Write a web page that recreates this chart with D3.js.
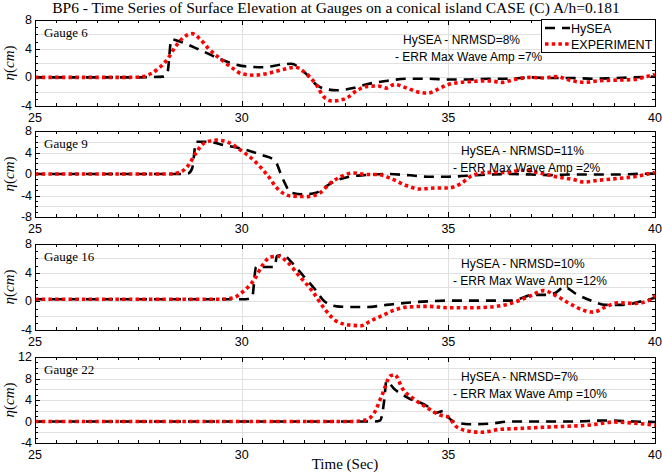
<!DOCTYPE html>
<head>
    <meta charset="utf-8" />
    <title>BP6 gauges</title>
</head>
<style>
    body { margin: 0; background: #fff; }
    .grid line { stroke: #e0e0e0; stroke-width: 1px; shape-rendering: crispEdges; }
    .frame { fill: none; stroke: #000; stroke-width: 1px; shape-rendering: crispEdges; }
    .tick line { stroke: #000; shape-rendering: crispEdges; }
    .ticklab { font-family: "Liberation Sans", Arial, sans-serif; font-size: 12.5px; fill: #000; }
    .serif { font-family: "Liberation Serif", "Times New Roman", serif; fill: #000; }
    .note { font-family: "Liberation Sans", Arial, sans-serif; font-size: 12px; fill: #000; }
</style>
<body>
<svg id="chart" width="662" height="476"></svg>
<script src="https://d3js.org/d3.v7.min.js"></script>
<script>
    // data: [time (s), eta (cm)]
    var gauges = ["Gauge 6", "Gauge 9", "Gauge 16", "Gauge 22"];
    var nrmsd = ["HySEA - NRMSD=8%", "HySEA - NRMSD=11%", "HySEA - NRMSD=10%", "HySEA - NRMSD=7%"];
    var errAmp = ["- ERR Max Wave Amp =7%", "- ERR Max Wave Amp =2%", "- ERR Max Wave Amp =12%", "- ERR Max Wave Amp =10%"];
    var yDomains = [[-4, 8], [-8, 8], [-4, 8], [-4, 12]];
    var yLabelTicks = [[-4, 0, 4, 8], [-8, -4, 0, 4, 8], [-4, 0, 4, 8], [-4, 0, 4, 8, 12]];
    var xTicks = [25, 30, 35, 40];

    var hysea6 = [[25, 0], [27.5, 0], [28.1, 0.1], [28.2, 0.5], [28.3, 5.3], [28.5, 5.0], [29, 3.8], [29.5, 2.5], [30, 1.6], [30.5, 1.4],
        [31, 1.8], [31.2, 1.9], [31.5, 0.8], [31.8, -1], [32, -1.6], [32.3, -1.8], [32.7, -1.5], [33, -1], [33.5, -0.5], [34, -0.2],
        [34.5, -0.2], [35, -0.3], [35.5, -0.3], [36, -0.2], [36.5, -0.2], [37, 0], [37.5, -0.1], [38, -0.1], [38.5, -0.2], [39, -0.1], [39.5, 0], [40, 0.1]];
    var exp6 = [[25, 0], [27.3, 0], [27.6, 0.1], [27.8, 0.5], [28, 1.3], [28.2, 2.5], [28.4, 4.3], [28.6, 5.6], [28.8, 6.1], [29, 5.3],
        [29.2, 4], [29.5, 2.5], [29.8, 1.2], [30, 0.5], [30.3, 0.3], [30.6, 0.5], [31, 1.1], [31.3, 1.4], [31.5, 0.8], [31.8, -1],
        [32, -2.8], [32.2, -3.3], [32.5, -3], [32.8, -1.8], [33, -1.3], [33.3, -1.2], [33.5, -1.5], [33.7, -1], [34, -1.5], [34.3, -2.1],
        [34.5, -2.2], [34.8, -1.5], [35, -1], [35.5, -0.6], [36, -0.5], [36.3, -0.7], [36.6, -0.3], [37, 0], [37.3, -0.1], [37.6, 0.1],
        [38, -0.5], [38.3, -0.7], [38.6, -0.5], [39, -0.4], [39.5, -0.3], [39.8, 0.1], [40, 0.4]];

    var hysea9 = [[25, 0], [28.5, 0], [28.7, 0.1], [28.8, 1], [28.9, 6], [29.2, 6], [29.5, 5.5], [30, 4.7], [30.5, 3.5], [30.8, 2.5],
        [31, -1], [31.2, -3.5], [31.5, -3.8], [31.8, -3.5], [32, -2.5], [32.3, -1.2], [32.6, -0.5], [33, -0.2], [33.5, 0], [34, -0.2],
        [34.5, -0.5], [35, -0.5], [35.5, -0.3], [36, -0.1], [36.5, 0], [37, -0.1], [37.5, -0.2], [38, -0.1], [38.5, -0.1], [39, -0.1], [39.5, 0], [40, 0.1]];
    var exp9 = [[25, 0], [28.2, 0], [28.5, 0.3], [28.7, 1.5], [28.9, 4], [29.1, 5.8], [29.4, 6.3], [29.7, 5.8], [30, 4.3], [30.3, 2.5],
        [30.6, 0], [30.9, -3], [31.2, -4.1], [31.6, -4.2], [31.9, -3.5], [32.1, -2], [32.4, -0.5], [32.7, 0.2], [33, -0.1], [33.3, -0.1],
        [33.6, -0.8], [34, -2.2], [34.3, -2.8], [34.7, -2.6], [35, -2.6], [35.3, -1.8], [35.6, -0.2], [36, 0.3], [36.4, 0.3], [36.8, 0.7],
        [37.2, 0.2], [37.6, -0.5], [38, -1], [38.3, -1.5], [38.6, -1.2], [39, -0.9], [39.5, -0.5], [40, 0.3]];

    var hysea16 = [[25, 0.3], [30.1, 0.3], [30.25, 0.5], [30.35, 4.8], [30.5, 4.8], [30.8, 4.8], [30.85, 6.3], [31, 6.5], [31.2, 5.5],
        [31.5, 3.5], [31.8, 1.5], [32, 0], [32.3, -0.7], [32.7, -0.8], [33, -0.8], [33.5, -0.5], [34, -0.2], [34.5, 0], [35, 0.1],
        [36, 0.1], [36.5, 0.1], [36.8, 0.5], [37, 0.9], [37.4, 0.9], [37.6, 1.2], [37.8, 2], [38.1, 1], [38.5, 0], [38.8, -0.5],
        [39.2, -0.5], [39.6, -0.1], [40, 0.5]];
    var exp16 = [[25, 0.3], [29.5, 0.3], [29.8, 0.5], [30, 1.2], [30.3, 3], [30.5, 5], [30.7, 6.2], [30.9, 6.3], [31.1, 5.5], [31.4, 3.5],
        [31.7, 1.5], [32, -1], [32.3, -2.8], [32.6, -3.3], [32.9, -3.4], [33.1, -2.8], [33.4, -2], [33.7, -1.2], [34, -0.8], [34.5, -0.7],
        [35, -0.9], [35.5, -0.9], [36, -0.8], [36.5, -0.3], [37, 0.8], [37.3, 1.5], [37.6, 0.8], [37.9, -0.2], [38.3, -1.3], [38.5, -1.5],
        [38.8, -0.8], [39.1, -0.2], [39.5, -0.3], [39.8, 0], [40, 0.8]];

    var hysea22 = [[25, 0], [33.2, 0], [33.35, 0.2], [33.45, 4], [33.5, 7.5], [33.7, 6], [34, 4.5], [34.5, 2.8], [34.7, 1.6], [34.9, 2],
        [35, 0.8], [35.2, -0.2], [35.5, -0.5], [36, -0.4], [36.5, 0], [37, 0], [38, 0], [38.8, 0.2], [39.5, 0], [40, -0.1]];
    var exp22 = [[25, 0], [32.7, 0], [33, 0.3], [33.2, 1.5], [33.4, 5], [33.6, 8.5], [33.7, 8.7], [33.9, 6], [34.2, 4], [34.5, 2.5],
        [34.8, 1.2], [35, 0.8], [35.2, -1], [35.5, -1.8], [35.8, -2], [36.2, -1.5], [36.7, -1.3], [37.5, -1], [38.5, -0.6], [39, -0.1],
        [39.5, -0.3], [40, -0.7]];

    var hyseaSeries = [hysea6, hysea9, hysea16, hysea22];
    var expSeries = [exp6, exp9, exp16, exp22];

    var svg = d3.select("#chart");
    var left = 35, right = 655;
    var panelTops = [20, 131, 244, 357];
    var panelH = 86;

    var x = d3.scaleLinear().domain([25, 40]).range([left, right]);

    svg.append("text")
        .attr("class", "serif")
        .attr("x", 336).attr("y", 13)
        .attr("text-anchor", "middle")
        .attr("font-size", "15.5px")
        .text("BP6 - Time Series of Surface Elevation at Gauges on a conical island CASE (C) A/h=0.181");

    gauges.forEach(function(name, i) {
        var top = panelTops[i], bottom = top + panelH;
        var dom = yDomains[i];
        var y = d3.scaleLinear().domain(dom).range([bottom, top]);
        var g = svg.append("g");

        // grid
        var grid = g.append("g").attr("class", "grid");
        grid.selectAll(".gy").data(d3.range(dom[0] + 2, dom[1], 2)).enter().append("line")
            .attr("x1", left).attr("x2", right)
            .attr("y1", function(d) { return Math.round(y(d)) + 0.5; })
            .attr("y2", function(d) { return Math.round(y(d)) + 0.5; });
        grid.selectAll(".gx").data([30, 35]).enter().append("line")
            .attr("y1", top).attr("y2", bottom)
            .attr("x1", function(d) { return Math.round(x(d)) + 0.5; })
            .attr("x2", function(d) { return Math.round(x(d)) + 0.5; });

        // ticks (inward, all four sides)
        var ticks = g.append("g").attr("class", "tick");
        d3.range(25, 40.01, 0.5).forEach(function(t) {
            var len = (t % 5 === 0) ? 5 : 3;
            var px = Math.round(x(t)) + 0.5;
            ticks.append("line").attr("x1", px).attr("x2", px).attr("y1", bottom).attr("y2", bottom - len);
            ticks.append("line").attr("x1", px).attr("x2", px).attr("y1", top).attr("y2", top + len);
        });
        d3.range(dom[0], dom[1] + 0.01, 1).forEach(function(v) {
            var len = (v % 4 === 0) ? 5 : 3;
            var py = Math.round(y(v)) + 0.5;
            ticks.append("line").attr("y1", py).attr("y2", py).attr("x1", left).attr("x2", left + len);
            ticks.append("line").attr("y1", py).attr("y2", py).attr("x1", right).attr("x2", right - len);
        });

        // tick labels
        g.selectAll(".yl").data(yLabelTicks[i]).enter().append("text")
            .attr("class", "ticklab")
            .attr("x", left - 3)
            .attr("y", function(d) { return y(d) + 4; })
            .attr("text-anchor", "end")
            .text(function(d) { return d; });
        g.selectAll(".xl").data(xTicks).enter().append("text")
            .attr("class", "ticklab")
            .attr("x", function(d) { return x(d); })
            .attr("y", bottom + 16)
            .attr("text-anchor", "middle")
            .text(function(d) { return d; });

        // y label
        var yl = g.append("text")
            .attr("class", "serif")
            .attr("transform", "translate(14," + (top + panelH / 2) + ") rotate(-90)")
            .attr("text-anchor", "middle")
            .attr("font-size", "15px");
        yl.append("tspan").attr("font-style", "italic").text("η");
        yl.append("tspan").text("(");
        yl.append("tspan").attr("font-style", "italic").text("cm");
        yl.append("tspan").text(")");

        // lines
        var line = d3.line()
            .x(function(d) { return x(d[0]); })
            .y(function(d) { return y(d[1]); })
            .curve(d3.curveMonotoneX);

        g.append("path")
            .attr("d", line(hyseaSeries[i]))
            .attr("fill", "none")
            .attr("stroke", "#000")
            .attr("stroke-width", 2.6)
            .attr("stroke-dasharray", "10,7");
        g.append("path")
            .attr("d", line(expSeries[i]))
            .attr("fill", "none")
            .attr("stroke", "#ff0000")
            .attr("stroke-width", 3.6)
            .attr("stroke-dasharray", "3.5,3.2");

        g.append("rect").attr("class", "frame")
            .attr("x", left + 0.5).attr("y", top + 0.5)
            .attr("width", right - left).attr("height", panelH);

        g.append("text").attr("class", "serif")
            .attr("x", 44).attr("y", top + 17)
            .attr("font-size", "13px")
            .text(name);

        var nx = i === 0 ? 400 : 458;
        g.append("text").attr("class", "note")
            .attr("x", nx + 3).attr("y", top + 24)
            .text(nrmsd[i]);
        g.append("text").attr("class", "note")
            .attr("x", nx - 5).attr("y", top + 41)
            .text(errAmp[i]);
    });

    // legend in first panel
    var lg = svg.append("g");
    lg.append("rect")
        .attr("x", 541.5).attr("y", 19.5)
        .attr("width", 114).attr("height", 33)
        .attr("fill", "#fff").attr("stroke", "#000").attr("stroke-width", 1);
    lg.append("line").attr("x1", 545).attr("x2", 570).attr("y1", 28).attr("y2", 28)
        .attr("stroke", "#000").attr("stroke-width", 2.6).attr("stroke-dasharray", "10,7");
    lg.append("line").attr("x1", 545).attr("x2", 571).attr("y1", 44).attr("y2", 44)
        .attr("stroke", "#ff0000").attr("stroke-width", 3.6).attr("stroke-dasharray", "3.5,3.2");
    lg.append("text").attr("class", "ticklab").attr("x", 571).attr("y", 33).attr("font-size", "14px").text("HySEA");
    lg.append("text").attr("class", "ticklab").attr("x", 571).attr("y", 49).attr("font-size", "14px").text("EXPERIMENT");

    svg.append("text").attr("class", "serif")
        .attr("x", 345).attr("y", 469)
        .attr("text-anchor", "middle")
        .attr("font-size", "15px")
        .text("Time (Sec)");
</script>
</body>
